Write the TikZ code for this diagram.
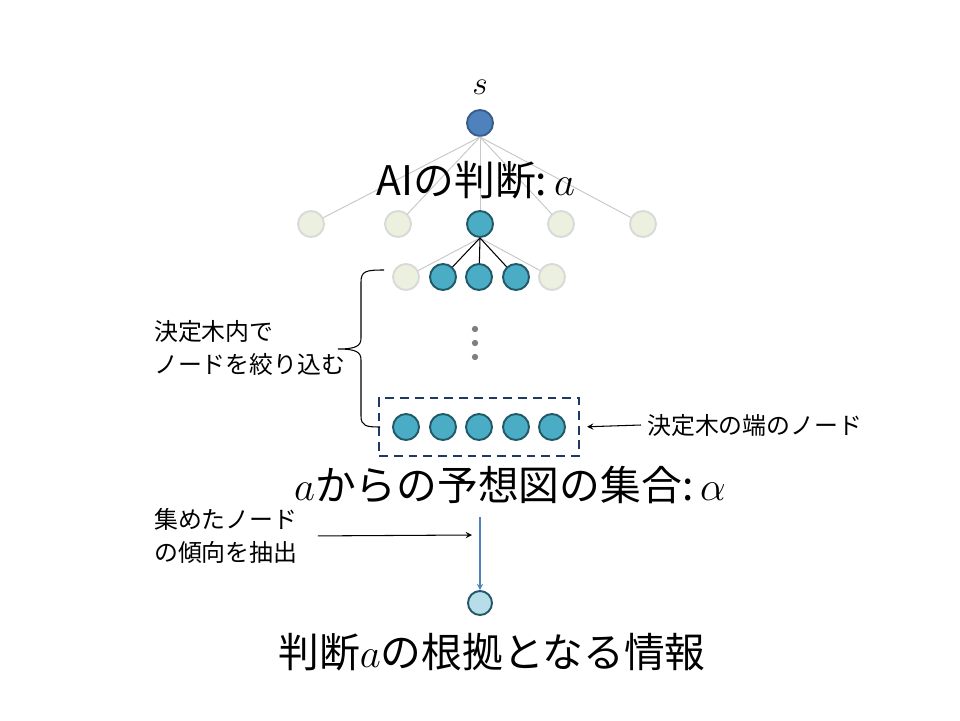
\RequirePackage{fix-cm}
\documentclass[tikz,border=0pt]{standalone}
\usepackage{fontspec}
\setmainfont{Noto Sans CJK JP}
\usepackage{tikz}
\usetikzlibrary{arrows,fit}
\definecolor{rootblue}{HTML}{4F81BD}
\definecolor{rootedge}{HTML}{385D8A}
\definecolor{tealmid}{HTML}{4BACC6}
\definecolor{tealdark}{HTML}{215968}
\definecolor{tealpale}{HTML}{B7DEE8}
\definecolor{paleolive}{HTML}{EBF1DE}
\definecolor{palegray}{HTML}{D9D9D9}
\definecolor{edgegray}{HTML}{C8C8C8}
\definecolor{dotgray}{HTML}{7F7F7F}
\definecolor{boxnavy}{HTML}{1F3864}
\newcommand{\bigtxt}    {\fontsize{23.2}{28}\selectfont}
\newcommand{\smalltxt}  {\fontsize{13.6}{18.7}\selectfont}
\newcommand{\cln}       {\,:\,}

\begin{document}
\begin{tikzpicture}[x=0.02cm,y=-0.02cm,>=stealth,
    vtx/.style={circle,minimum size=0.52cm,inner sep=0pt,line width=1.1pt},
    pale/.style={vtx,draw=palegray,fill=paleolive},
    hit/.style={vtx,draw=tealdark,fill=tealmid},
    faint/.style={draw=edgegray,line width=0.55pt}]
       \useasboundingbox (0,0) rectangle (960,720);
       % root
       \node[vtx,draw=rootedge,fill=rootblue] (s) at (480,123) {};
       \node (slab) at (480,87) {\fontsize{19}{22}\selectfont$s$};
       % first level
       \foreach \x/\i in {311/1,398/2,561/4,643/5}
         \node[pale] (a\i) at (\x,224) {};
       \node[hit] (a3) at (480,224) {};
       \foreach \i in {1,...,5}
         \draw[faint] (s.south) -- (a\i);
       \node[font=\bigtxt] (judge) at (476,180) {AIの判断:\,$a$};
       % second level
       \node[pale] (b1) at (406,277) {};
       \node[hit]  (b2) at (443,277) {};
       \node[hit]  (b3) at (479,277) {};
       \node[hit]  (b4) at (516,277) {};
       \node[pale] (b5) at (552,277) {};
       \draw[faint] (a3.south) -- (b1);
       \draw[faint] (a3.south) -- (b5);
       \foreach \i in {2,3,4}
         \draw[line width=0.6pt] (a3.south) -- (b\i);
       \foreach \y in {329,343,357}
         \fill[dotgray] (475,\y) circle (1.8pt);
       % leaves
       \foreach \x/\i in {406/1,443/2,479/3,516/4,552/5}
         \node[hit] (c\i) at (\x,427) {};
       \node[draw=boxnavy,line width=1.2pt,dash pattern=on 5pt off 3.4pt,
             inner xsep=0.26cm,inner ysep=0.3cm,fit=(c1)(c5)] (leafbox) {};
       \node[font=\smalltxt,anchor=west] (leaflab) at (641,425) {決定木の端のノード};
       \draw[->,line width=0.6pt,shorten >=4pt] (leaflab.west) -- (leafbox.east);
       % brace
       \draw[line width=0.6pt] (384,270) .. controls (366,270) and (361,271) .. (361,282)
         -- (361,338) .. controls (361,346) and (356,349) .. (338,349)
         .. controls (356,349) and (361,352) .. (361,360)
         -- (361,416) .. controls (361,426) and (366,427) .. (380,427);
       \node[font=\smalltxt,align=left,anchor=west] (narrow) at (148,348)
         {決定木内で\\ノードを絞り込む};
       \node[font=\bigtxt] (preds) at (510,485) {$a$からの予想図の集合:\,$\alpha$};
       % extraction
       \node[font=\smalltxt,align=left,anchor=west] (trend) at (148,536)
         {集めたノード\\の傾向を抽出};
       \coordinate (tip) at (472,535);
       \draw[->,line width=0.6pt,shorten <=8pt] (trend.east) -- (tip);
       \node[vtx,draw=tealdark,fill=tealpale,minimum size=0.48cm] (r) at (480,603) {};
       \coordinate (drop) at (480,517);
       \draw[->,rootblue,line width=0.6pt] (drop) -- (r);
       \node[font=\bigtxt] (basis) at (492,652) {判断$a$の根拠となる情報};
      \end{tikzpicture}
\end{document}
